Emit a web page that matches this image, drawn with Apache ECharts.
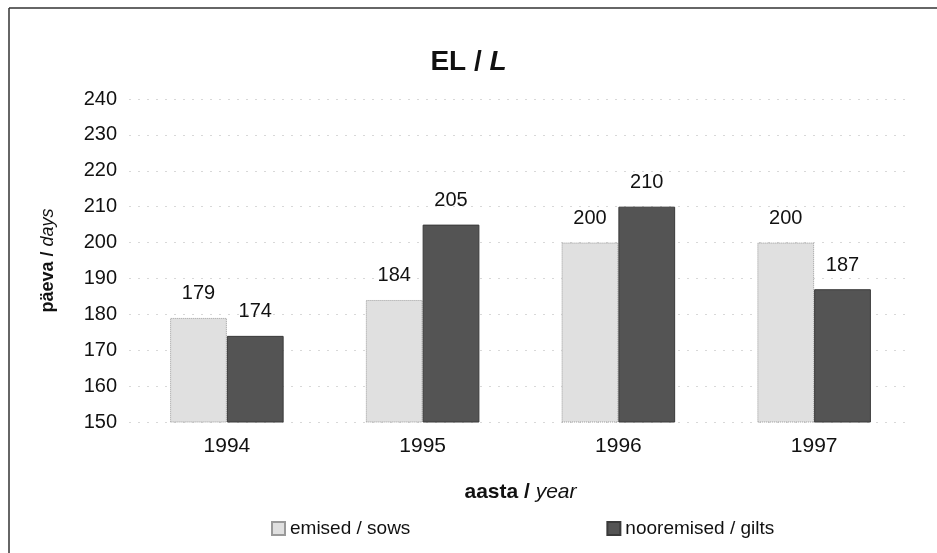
<!DOCTYPE html>
<html>
<head>
<meta charset="utf-8">
<script src="https://cdn.jsdelivr.net/npm/echarts@6/dist/echarts.min.js"></script>
<style>
  html, body { margin: 0; padding: 0; background: #fff; }
  #chart { width: 937px; height: 553px; }
</style>
</head>
<body>
<div id="chart"></div>
<script>
var years = ['1994', '1995', '1996', '1997'];
var sows = [179, 184, 200, 200];
var gilts = [174, 205, 210, 187];
var seriesNames = ['emised / sows', 'nooremised / gilts'];

var main = function () {
    var font = 'Liberation Sans, Arial, sans-serif';
    var myChart = echarts.init(document.getElementById('chart'));

    var labelStyle = {
        show: true,
        position: 'top',
        distance: 14,
        color: '#111',
        fontSize: 20,
        fontFamily: font
    };

    var richName = function (size) {
        return {
            b: { fontSize: size, fontWeight: 'bold', color: '#111', fontFamily: font },
            i: { fontSize: size, fontStyle: 'italic', color: '#111', fontFamily: font }
        };
    };

    var option = {
        backgroundColor: '#fff',
        animation: false,
        title: {
            text: '{b|EL / }{i|L}',
            left: 'center',
            top: 43,
            textStyle: { rich: richName(28) }
        },
        grid: { left: 129, right: 25, top: 99, bottom: 131 },
        legend: {
            data: seriesNames,
            icon: 'rect',
            left: 266,
            top: 514,
            itemWidth: 13,
            itemHeight: 13,
            itemGap: 196,
            textStyle: { fontSize: 19, color: '#111', fontFamily: font }
        },
        xAxis: {
            type: 'category',
            data: years,
            name: '{b|aasta / }{i|year}',
            nameLocation: 'middle',
            nameGap: 60,
            nameTextStyle: { rich: richName(21) },
            axisLine: { show: false },
            axisTick: { show: false },
            axisLabel: { fontSize: 21, color: '#111', fontFamily: font, margin: 14 }
        },
        yAxis: {
            type: 'value',
            min: 150,
            max: 240,
            interval: 10,
            name: '{b|päeva / }{i|days}',
            nameLocation: 'middle',
            nameGap: 72,
            nameRotate: 90,
            nameTextStyle: { rich: richName(18) },
            axisLine: { show: false },
            axisTick: { show: false },
            axisLabel: { fontSize: 20, color: '#111', fontFamily: font, margin: 12 },
            splitLine: { lineStyle: { color: '#d8d8d8', type: [2, 7], width: 1 } }
        },
        series: [
            {
                name: seriesNames[0],
                type: 'bar',
                data: sows,
                barGap: '0%',
                barCategoryGap: '42%',
                itemStyle: { color: '#e0e0e0', borderColor: '#9a9a9a', borderWidth: 1, borderType: 'dotted' },
                label: labelStyle
            },
            {
                name: seriesNames[1],
                type: 'bar',
                data: gilts,
                itemStyle: { color: '#545454', borderColor: '#3a3a3a', borderWidth: 1 },
                label: labelStyle
            }
        ],
        graphic: [
            { type: 'line', shape: { x1: 9, y1: 8, x2: 937, y2: 8 }, style: { stroke: '#333', lineWidth: 1.5 } },
            { type: 'line', shape: { x1: 9, y1: 8, x2: 9, y2: 553 }, style: { stroke: '#333', lineWidth: 1.5 } }
        ]
    };

    myChart.setOption(option);
}();
</script>
</body>
</html>
